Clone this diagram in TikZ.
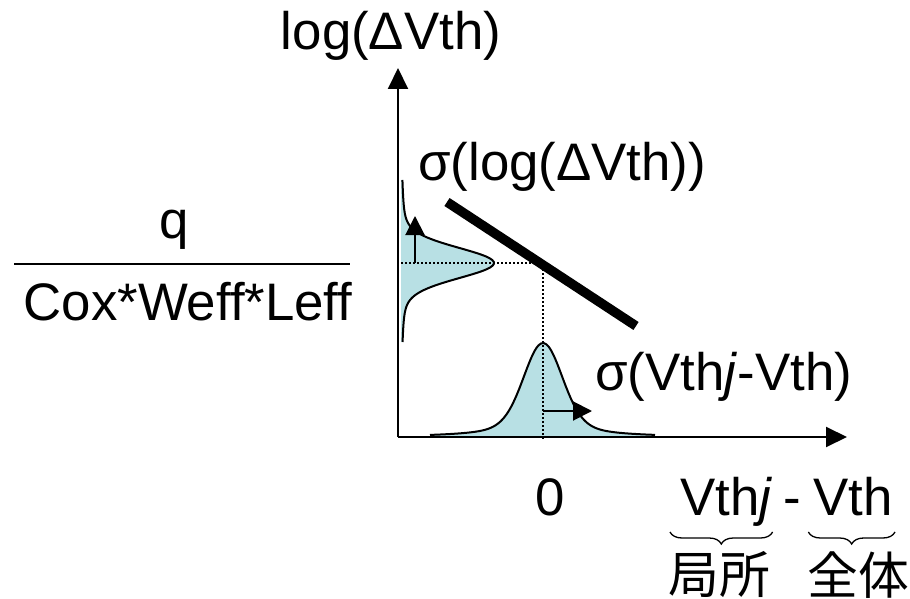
\documentclass[tikz,border=0pt]{standalone}
\usepackage{fontspec}
\setmainfont[Ligatures=NoCommon]{Liberation Sans}
\newfontfamily\cjk{Noto Sans CJK JP}
\usetikzlibrary{positioning,arrows.meta,decorations.pathreplacing}
\definecolor{distblue}{RGB}{184,224,228}
\tikzset{
  lbl/.style={inner sep=0pt, font=\fontsize{53}{60}\selectfont},
  cjklbl/.style={inner sep=0pt, font=\fontsize{51}{56}\selectfont\cjk},
  axisline/.style={-{Triangle[length=21bp,width=20bp]}, line width=2bp},
  curve/.style={line width=2bp, smooth, samples=90},
  sdarrow/.style={-{Triangle[length=19bp,width=19bp]}, line width=2bp},
  guide/.style={line width=1.5bp, dash pattern=on 1.5bp off 2.5bp},
  brc/.style={decorate, decoration={brace, mirror, amplitude=12bp}, line width=1.3bp},
}

\begin{document}
\begin{tikzpicture}[x=1bp, y=-1bp]
  \useasboundingbox (0,0) rectangle (910,599);

  % distributions
  \fill[distblue] (401,180) -- plot[smooth, samples=90, domain=180:342]
    ({401 + 93*(0.8*exp(-((\x-263)^2)/450) + 0.2/(1+((\x-263)/24)^2))}, \x)
    -- (401,342) -- cycle;
  \draw[curve, domain=180:342]
    plot ({401 + 93*(0.8*exp(-((\x-263)^2)/450) + 0.2/(1+((\x-263)/24)^2))}, \x);
  \fill[distblue] (430,437) -- plot[smooth, samples=90, domain=430:655]
    (\x, {437 - 94*(0.7*exp(-((\x-543)^2)/722) + 0.3/(1+((\x-543)/32)^2))})
    -- (655,437) -- cycle;
  \draw[curve, domain=430:655]
    plot (\x, {437 - 94*(0.7*exp(-((\x-543)^2)/722) + 0.3/(1+((\x-543)/32)^2))});

  % axes
  \coordinate (origin) at (398,437);
  \coordinate (ytip) at (398,68);
  \coordinate (xtip) at (847,437);
  \draw[axisline] (origin) -- (ytip);
  \draw[axisline] (origin) -- (xtip);

  % guides
  \coordinate (vbase) at (401,263);
  \coordinate (cross) at (543,263);
  \coordinate (hbase) at (543,440);
  \draw[guide] (vbase) -- (cross) -- (hbase);

  % spreads
  \coordinate (vsd0) at (415,263);
  \coordinate (vsd1) at (415,216);
  \draw[sdarrow] (vsd0) -- (vsd1);
  \coordinate (hsd0) at (543,411);
  \coordinate (hsd1) at (592,411);
  \draw[sdarrow] (hsd0) -- (hsd1);

  % slope
  \coordinate (slopeA) at (447,202);
  \coordinate (slopeB) at (636,326);
  \draw[line width=9.5bp] (slopeA) -- (slopeB);

  % labels
  \node[lbl, anchor=base] (ylabel) at (391,50) {log(ΔVth)};
  \node[lbl, anchor=base] (fracnum) at (174,239) {q};
  \coordinate (barL) at (14,264);
  \coordinate (barR) at (350,264);
  \draw[line width=1.5bp] (barL) -- (barR);
  \node[lbl, anchor=base] (fracden) at (188,320) {Cox*Weff*Leff};
  \node[lbl, anchor=base west] (sigmalog) at (418,181) {σ(log(ΔVth))};
  \node[lbl, anchor=base west] (sigmavth) at (595,390) {σ(Vth\textit{j}-Vth)};
  \node[lbl, anchor=base] (zero) at (550,515) {0};
  \node[lbl, anchor=base west] (vthj) at (680,515) {Vth\textit{j}};
  \node[lbl, anchor=base] (minus) at (792,515) {-};
  \node[lbl, anchor=base east] (vth) at (893,515) {Vth};

  % braces
  \draw[brc] ([xshift=-10bp,yshift=-17bp]vthj.base west) -- ([yshift=-17bp]vthj.base east);
  \draw[brc] ([xshift=-5bp,yshift=-17bp]vth.base west) -- ([xshift=2bp,yshift=-17bp]vth.base east);
  \node[cjklbl] (local) at (719,575) {局所};
  \node[cjklbl] (whole) at (858,575) {全体};
\end{tikzpicture}
\end{document}
